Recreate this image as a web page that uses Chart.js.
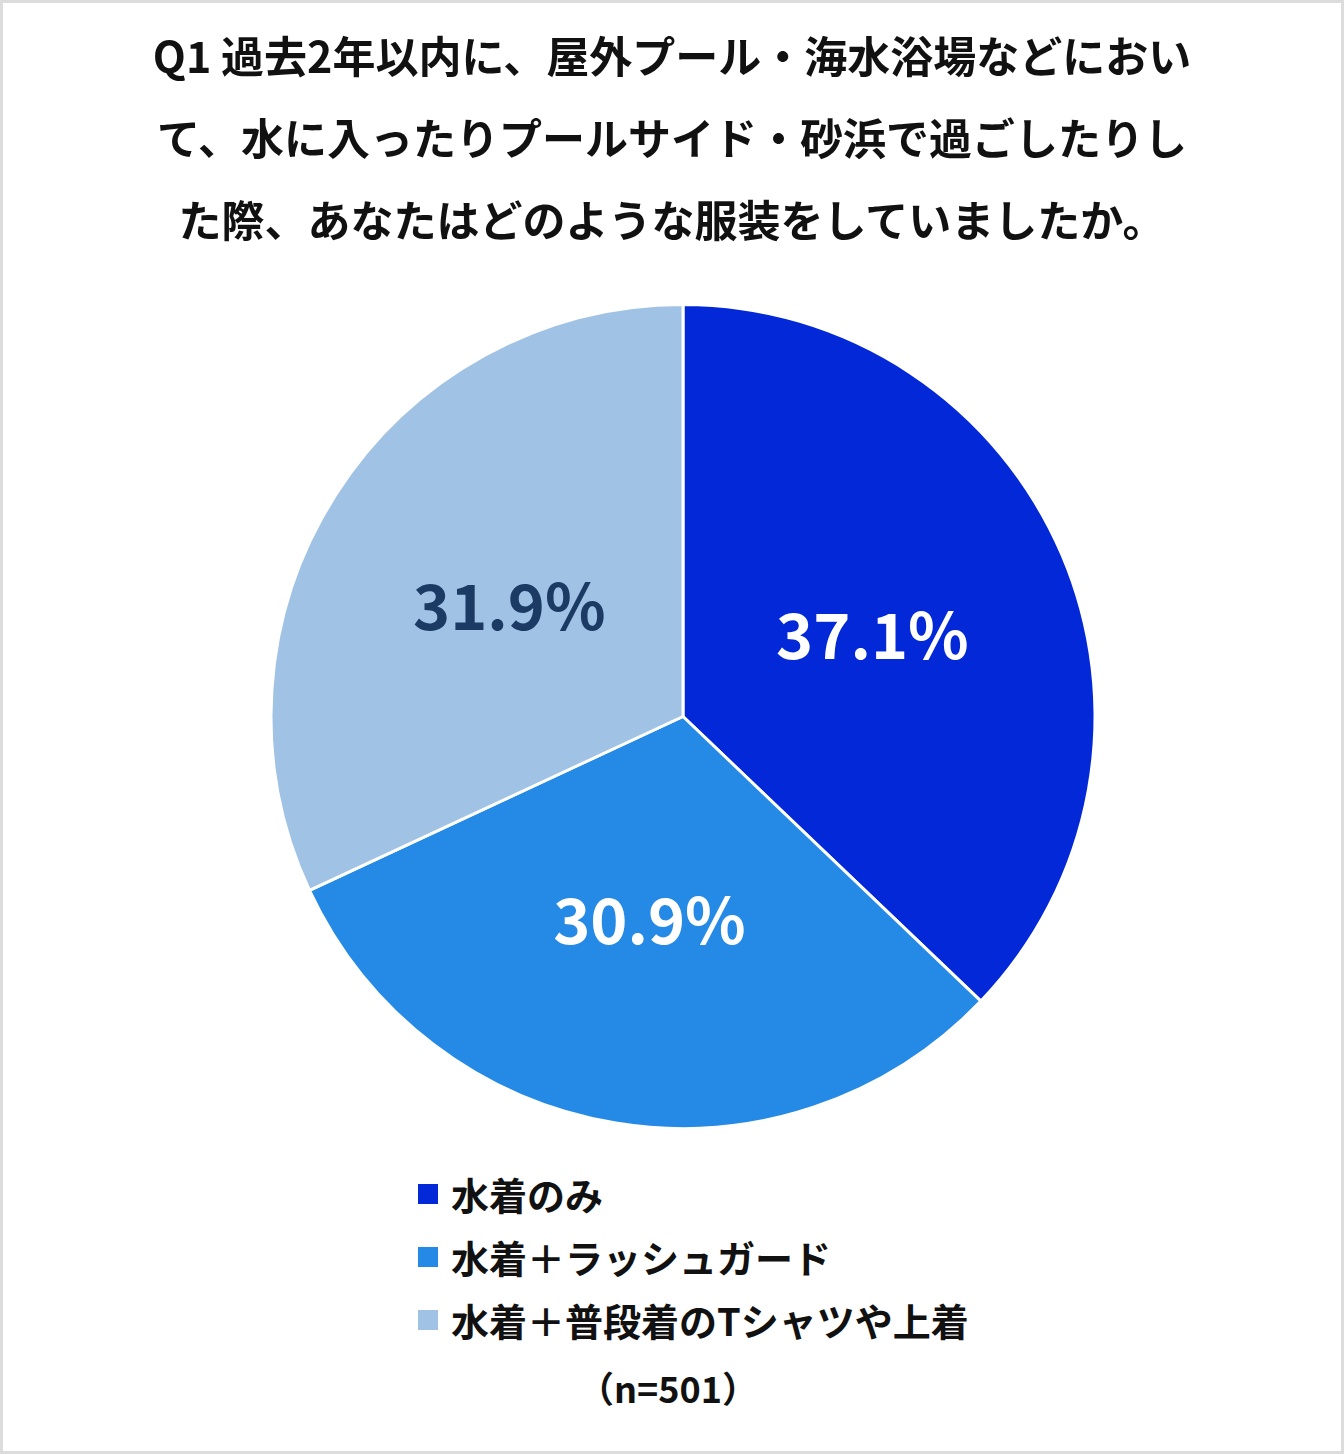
<!DOCTYPE html>
<html>
<head>
<meta charset="utf-8">
<script src="https://cdn.jsdelivr.net/npm/chart.js@4"></script>
<style>
  html, body { margin: 0; padding: 0; background: #fff; }
  #frame { position: relative; width: 1344px; height: 1454px; box-sizing: border-box; border: 3px solid #dcdcdc; background: #fff; overflow: hidden; }
  #chartBox { position: absolute; left: -3px; top: -3px; width: 1344px; height: 1131px; }
  #title { position: absolute; left: 0; top: 10px; width: 1338px; text-align: center; font-family: "Noto Sans CJK JP", sans-serif; font-weight: bold; font-size: 43px; line-height: 82px; color: #111; }
  #legend { position: absolute; left: 415px; top: 1159px; font-family: "Noto Sans CJK JP", sans-serif; font-weight: bold; font-size: 38px; color: #111; }
  .item { display: flex; align-items: center; height: 63px; }
  .box { width: 20px; height: 20px; margin-right: 13px; }
  #note { position: absolute; left: 0; width: 1330px; top: 1358px; text-align: center; font-family: "Noto Sans CJK JP", sans-serif; font-weight: bold; font-size: 36px; color: #111; }
</style>
</head>
<body>
<div id="frame">
  <div id="chartBox"><canvas id="c"></canvas></div>
  <div id="title"></div>
  <div id="legend"></div>
  <div id="note"></div>
</div>
<script>
const titleLines = [
  "Q1 過去2年以内に、屋外プール・海水浴場などにおい",
  "て、水に入ったりプールサイド・砂浜で過ごしたりし",
  "た際、あなたはどのような服装をしていましたか。"
];
const categories = ["水着のみ", "水着＋ラッシュガード", "水着＋普段着のTシャツや上着"];
const values = [37.1, 30.9, 31.9];
const colors = ["#0228D8", "#248AE6", "#A0C2E4"];
const labelColors = ["#ffffff", "#ffffff", "#1B3A64"];
const sampleNote = "（n=501）";

const titleEl = document.getElementById('title');
titleLines.forEach(line => {
  const d = document.createElement('div');
  d.textContent = line;
  titleEl.appendChild(d);
});

const legendEl = document.getElementById('legend');
categories.forEach((c, i) => {
  const d = document.createElement('div');
  d.className = 'item';
  const b = document.createElement('span');
  b.className = 'box';
  b.style.background = colors[i];
  const t = document.createElement('span');
  t.textContent = c;
  d.appendChild(b); d.appendChild(t);
  legendEl.appendChild(d);
});
document.getElementById('note').textContent = sampleNote;

const pctLabels = {
  id: 'pctLabels',
  afterDatasetsDraw(chart) {
    const ctx = chart.ctx;
    const meta = chart.getDatasetMeta(0);
    ctx.save();
    ctx.font = 'bold 63px "Noto Sans CJK JP", sans-serif';
    ctx.textAlign = 'center';
    ctx.textBaseline = 'middle';
    meta.data.forEach((arc, i) => {
      const p = arc.tooltipPosition();
      ctx.fillStyle = labelColors[i];
      ctx.fillText(values[i].toFixed(1) + '%', p.x, p.y);
    });
    ctx.restore();
  }
};

new Chart(document.getElementById('c'), {
  type: 'pie',
  data: {
    labels: categories,
    datasets: [{
      data: values,
      backgroundColor: colors,
      borderColor: '#ffffff',
      borderWidth: 3
    }]
  },
  options: {
    responsive: true,
    maintainAspectRatio: false,
    animation: false,
    layout: { padding: { left: 22, right: 0, top: 303, bottom: 1 } },
    plugins: {
      legend: { display: false },
      tooltip: { enabled: false },
      title: { display: false }
    }
  },
  plugins: [pctLabels]
});
</script>
</body>
</html>
